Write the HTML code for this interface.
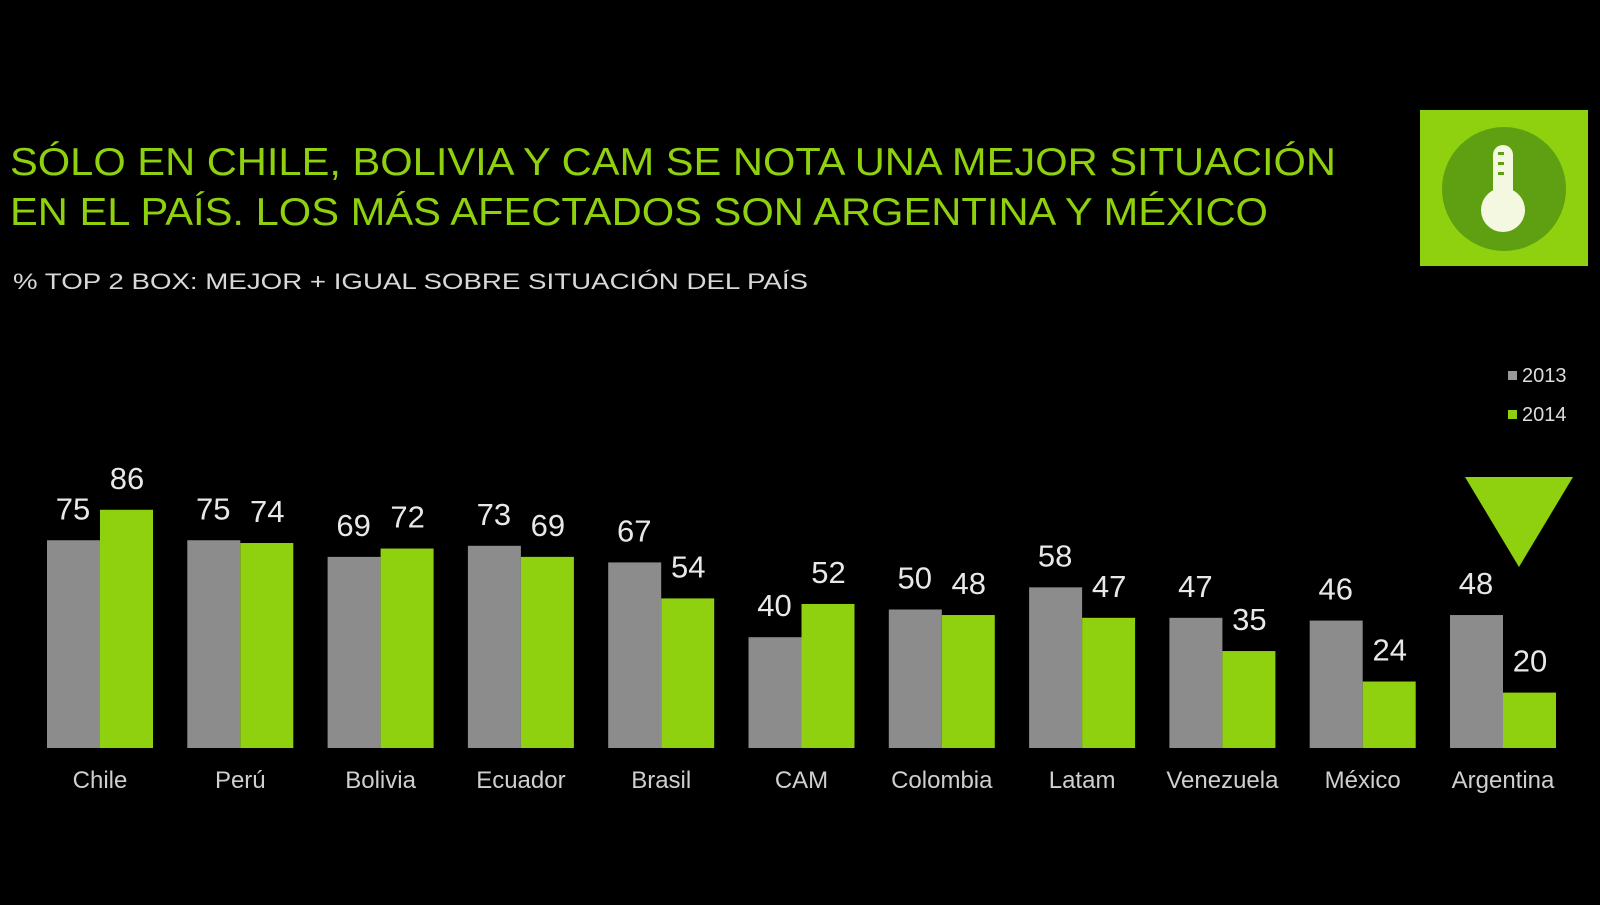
<!DOCTYPE html>
<html><head><meta charset="utf-8"><style>
body{margin:0;background:#000;width:1600px;height:900px;overflow:hidden;font-family:"Liberation Sans",sans-serif}
</style></head><body>
<svg width="1600" height="900" xmlns="http://www.w3.org/2000/svg" font-family="Liberation Sans, sans-serif">
<rect width="1600" height="900" fill="#000"/>
<text x="10" y="175" fill="#8fd10e" font-size="39" textLength="1326" lengthAdjust="spacingAndGlyphs">SÓLO EN CHILE, BOLIVIA Y CAM SE NOTA UNA MEJOR SITUACIÓN</text>
<text x="10" y="225" fill="#8fd10e" font-size="39" textLength="1258" lengthAdjust="spacingAndGlyphs">EN EL PAÍS. LOS MÁS AFECTADOS SON ARGENTINA Y MÉXICO</text>
<text x="13" y="289" fill="#d8d8d8" font-size="22" textLength="795" lengthAdjust="spacingAndGlyphs">% TOP 2 BOX:  MEJOR  + IGUAL  SOBRE  SITUACIÓN   DEL PAÍS</text>
<rect x="1420" y="110" width="168" height="156" fill="#8fd10e"/>
<circle cx="1504" cy="189" r="62" fill="#5fa012"/>
<rect x="1493" y="145" width="20" height="60" rx="10" fill="#f4f8e0"/>
<circle cx="1503" cy="210" r="22" fill="#f4f8e0"/>
<rect x="1498" y="152" width="6" height="3" fill="#5fa012"/><rect x="1498" y="162" width="6" height="3" fill="#5fa012"/><rect x="1498" y="172" width="6" height="3" fill="#5fa012"/>
<rect x="1508" y="371" width="9" height="9" fill="#999"/>
<text x="1522" y="382" fill="#ddd" font-size="20">2013</text>
<rect x="1508" y="410" width="9" height="9" fill="#8fd10e"/>
<text x="1522" y="421" fill="#ddd" font-size="20">2014</text>
<polygon points="1465,477 1573,477 1519,567" fill="#8fd10e"/>
<g id="bars"></g>
</svg>
<script>
var d=[["Chile",75,86],["Perú",75,74],["Bolivia",69,72],["Ecuador",73,69],["Brasil",67,54],["CAM",40,52],["Colombia",50,48],["Latam",58,47],["Venezuela",47,35],["México",46,24],["Argentina",48,20]];
var g=document.getElementById("bars"),s="";
d.forEach(function(r,i){var x=47+i*140.3,b=748,k=2.77;
var h1=r[1]*k,h2=r[2]*k;
s+='<rect x="'+x+'" y="'+(b-h1)+'" width="53" height="'+h1+'" fill="#8c8c8c"/>';
s+='<rect x="'+(x+53)+'" y="'+(b-h2)+'" width="53" height="'+h2+'" fill="#8fd10e"/>';
s+='<text x="'+(x+26)+'" y="'+(b-h1-21)+'" fill="#e8e8e8" font-size="31" text-anchor="middle">'+r[1]+'</text>';
s+='<text x="'+(x+80)+'" y="'+(b-h2-21)+'" fill="#e8e8e8" font-size="31" text-anchor="middle">'+r[2]+'</text>';
s+='<text x="'+(x+53)+'" y="788" fill="#cfcfcf" font-size="24" text-anchor="middle">'+r[0]+'</text>';});
g.innerHTML=s;
</script>
</body></html>
